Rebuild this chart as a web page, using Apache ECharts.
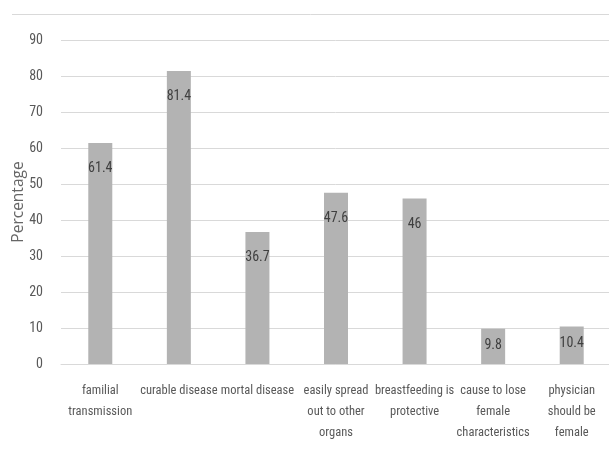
<!DOCTYPE html>
<html><head><meta charset="utf-8">
<script src="https://cdn.jsdelivr.net/npm/echarts@6/dist/echarts.min.js"></script>
<style>html,body{margin:0;padding:0;background:#fff}#c{width:609px;height:449px}</style>
</head><body><div id="c"></div>
<script>
const categories = ["familial\ntransmission","curable disease","mortal disease","easily spread\nout to other\norgans","breastfeeding is\nprotective","cause to lose\nfemale\ncharacteristics","physician\nshould be\nfemale"];
const values = [61.4, 81.4, 36.7, 47.6, 46, 9.8, 10.4];
const yTicks = {min: 0, max: 90, interval: 10};
const FONT = "'Roboto Condensed',sans-serif";
const chart = echarts.init(document.getElementById('c'), null, {renderer:'canvas'});
chart.setOption({
  animation: false,
  backgroundColor: '#fff',
  grid: {left: 61, right: -2, top: 40, bottom: 85, containLabel: false, outerBoundsMode: 'none'},
  graphic: [{type:'line', shape:{x1:12,y1:14.5,x2:609,y2:14.5}, style:{stroke:'#d9d9d9', lineWidth:1}}],
  xAxis: {
    type: 'category', data: categories,
    axisLine: {lineStyle: {color: '#d9d9d9'}}, axisTick: {show: false},
    axisLabel: {interval: 0, color: '#595959', fontFamily: FONT, fontSize: 12.5, lineHeight: 21, margin: 16, hideOverlap: false}
  },
  yAxis: {
    type: 'value', min: yTicks.min, max: yTicks.max, interval: yTicks.interval,
    name: 'Percentage', nameLocation: 'middle', nameGap: 34, nameRotate: 90, nameMoveOverlap: false,
    nameTextStyle: {color: '#666666', fontSize: 15.5, fontFamily: "'Open Sans',sans-serif"},
    axisLine: {show: false}, axisTick: {show: false},
    splitLine: {lineStyle: {color: '#d9d9d9'}},
    axisLabel: {color: '#595959', fontFamily: FONT, fontSize: 14, margin: 18}
  },
  series: [{
    type: 'bar', barWidth: 24,
    data: values.map(v => ({value: v, label: {distance: v < 20 ? 10 : 19}})),
    itemStyle: {color: '#b3b3b3'},
    label: {show: true, position: 'insideTop', color: '#404040', fontFamily: FONT, fontSize: 14}
  }]
});
</script></body></html>
